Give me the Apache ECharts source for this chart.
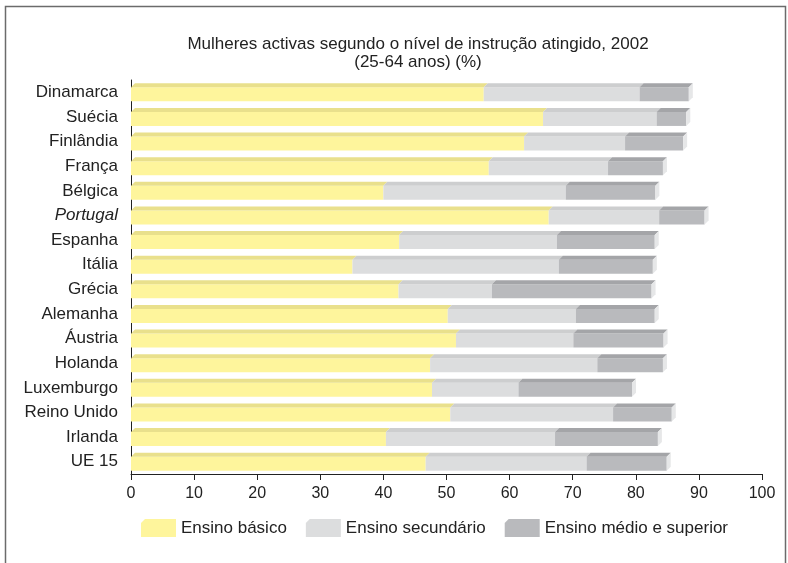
<!DOCTYPE html>
<html>
<head>
<meta charset="utf-8">
<script src="https://cdn.jsdelivr.net/npm/echarts@6/dist/echarts.min.js"></script>
<style>
  html, body { margin: 0; padding: 0; background: #fff; }
  #chart { width: 788px; height: 563px; }
</style>
</head>
<body>
<div id="chart"></div>
<script>
// Countries, top to bottom
const categories = ['Dinamarca', 'Suécia', 'Finlândia', 'França', 'Bélgica', 'Portugal', 'Espanha', 'Itália',
  'Grécia', 'Alemanha', 'Áustria', 'Holanda', 'Luxemburgo', 'Reino Unido', 'Irlanda', 'UE 15'];

// Share of active women (%) by education level
const basico     = [55.9, 65.3, 62.3, 56.7, 40.0, 66.2, 42.5, 35.1, 42.4, 50.2, 51.5, 47.4, 47.7, 50.6, 40.4, 46.7];
const secundario = [24.7, 18.0, 16.0, 18.9, 28.9, 17.5, 25.0, 32.7, 14.8, 20.3, 18.6, 26.5, 13.7, 25.8, 26.8, 25.5];
const superior   = [7.8, 4.7, 9.2, 8.7, 14.2, 7.2, 15.5, 14.9, 25.3, 12.5, 14.3, 10.4, 18.0, 9.3, 16.3, 12.7];

const seriesNames = ['Ensino básico', 'Ensino secundário', 'Ensino médio e superior'];
const xTicks = [0, 10, 20, 30, 40, 50, 60, 70, 80, 90, 100];

const levels = [basico, secundario, superior];
const faceColors = ['#FEF59C', '#DCDDDE', '#B9BABD'];
const topColors  = ['#E9E08C', '#CDCECF', '#A4A5A8'];
const capColor = '#E6E7E8';

// Stacked segments: [start, end, categoryIndex]
const cumulative = categories.map(() => 0);
const segmentData = levels.map(vals => vals.map((v, i) => {
  const start = cumulative[i];
  cumulative[i] = start + v;
  return [start, start + v, i];
}));

function makeRender(level) {
  const isLast = level === levels.length - 1;
  return function (params, api) {
    const s = api.coord([api.value(0), api.value(2)]);
    const e = api.coord([api.value(1), api.value(2)]);
    const yc = s[1];
    const ft = yc - 5, fb = yc + 9;   // front face
    const dx = 4, dy = 4;             // oblique depth
    const x0 = s[0], x1 = e[0];
    const children = [
      { type: 'rect', shape: { x: x0, y: ft, width: x1 - x0, height: fb - ft },
        style: { fill: faceColors[level] } },
      { type: 'polygon', shape: { points: [[x0, ft], [x1, ft], [x1 + dx, ft - dy], [x0 + dx, ft - dy]] },
        style: { fill: topColors[level] } }
    ];
    if (isLast) {
      children.push({ type: 'polygon',
        shape: { points: [[x1, ft], [x1 + dx, ft - dy], [x1 + dx, fb - dy], [x1, fb]] },
        style: { fill: capColor } });
    }
    return { type: 'group', children };
  };
}

const chart = echarts.init(document.getElementById('chart'), null, { renderer: 'canvas' });
const font = '"Liberation Sans", Arial, sans-serif';

chart.setOption({
  animation: false,
  backgroundColor: '#fff',
  textStyle: { fontFamily: font },
  title: {
    text: 'Mulheres activas segundo o nível de instrução atingido, 2002\n(25-64 anos) (%)',
    left: 413, top: 30, textAlign: 'center',
    textStyle: { fontSize: 17, fontWeight: 'normal', color: '#222', lineHeight: 18, fontFamily: font }
  },
  grid: { left: 131, right: 26, top: 80, bottom: 89 },
  legend: {
    data: seriesNames,
    left: 136, top: 514,
    itemWidth: 35, itemHeight: 18, itemGap: 19,
    icon: 'path://M0,4 L4,0 L35,0 L35,18 L0,18 Z',
    textStyle: { fontSize: 17, color: '#222', fontFamily: font }
  },
  xAxis: {
    type: 'value', min: 0, max: 100, interval: 10,
    axisLine: { show: true, lineStyle: { color: '#222', width: 1 } },
    axisTick: { show: true, length: 6, lineStyle: { color: '#222' } },
    axisLabel: { fontSize: 16, color: '#222', margin: 12, fontFamily: font,
      formatter: v => xTicks.includes(v) ? String(v) : '' },
    splitLine: { show: false }
  },
  yAxis: {
    type: 'category', data: categories, inverse: true,
    axisLine: { show: true, lineStyle: { color: '#222', width: 1 } },
    axisTick: { show: false },
    axisLabel: {
      fontSize: 17, color: '#222', margin: 13, fontFamily: font,
      formatter: v => v === 'Portugal' ? '{it|' + v + '}' : v,
      rich: { it: { fontStyle: 'italic', fontSize: 17, color: '#222', fontFamily: font } }
    }
  },
  series: levels.map((vals, k) => ({
    name: seriesNames[k],
    type: 'custom',
    renderItem: makeRender(k),
    itemStyle: { color: faceColors[k] },
    encode: { x: [0, 1], y: 2 },
    data: segmentData[k],
    z: 2
  })),
  graphic: [{
    type: 'rect', left: 3, top: 4, silent: true, z: -1,
    shape: { width: 780, height: 580 },
    style: { fill: 'none', stroke: '#6b6b6b', lineWidth: 1.5 }
  }]
});
</script>
</body>
</html>
